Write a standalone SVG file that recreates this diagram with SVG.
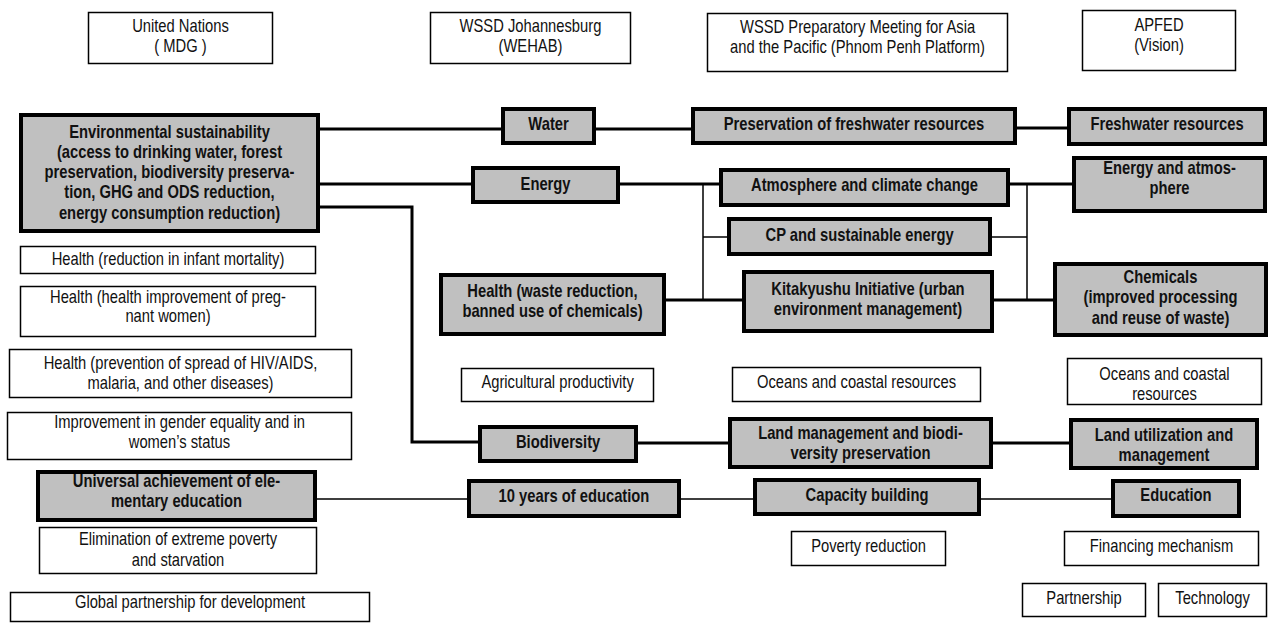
<svg xmlns="http://www.w3.org/2000/svg" width="1268" height="623" viewBox="0 0 1268 623">
<style>
text{font-family:"Liberation Sans",Arial,sans-serif;font-size:18px;fill:#111;text-anchor:middle;transform:scaleX(0.82);transform-box:fill-box;transform-origin:center}
.g rect{fill:#c0c0c0;stroke:#000;stroke-width:4}
.g text{font-weight:bold}
.w rect{fill:#fff;stroke:#000;stroke-width:1.5}
.thick{fill:none;stroke:#000;stroke-width:3}
.thin{fill:none;stroke:#000;stroke-width:1.5}
</style>
<rect width="1268" height="623" fill="#fff"/>
<g id="connectors">
<path class="thick" d="M320,129H501M596,129H691M1017,128H1067M320,184H471M620,184H719M1010,184H1072M320,207H412V442H478M638,443H728M993,443H1069M666,300H742M994,300H1053"/>
<path class="thin" d="M703,184V300M703,237H727M1027,185V300M992,237H1027M317,499H467M681,499H753M981,499H1111"/>
</g>
<g id="h-un" class="w"><rect x="88.5" y="12.5" width="184" height="51"/><text x="180.5" y="32">United Nations</text><text x="180.5" y="52">( MDG )</text></g>
<g id="h-wssd" class="w"><rect x="430.5" y="12.5" width="200" height="51"/><text x="530.5" y="32">WSSD Johannesburg</text><text x="530.5" y="52">(WEHAB)</text></g>
<g id="h-prep" class="w"><rect x="707.5" y="13.5" width="300" height="58"/><text x="857.5" y="33">WSSD Preparatory Meeting for Asia</text><text x="857.5" y="53">and the Pacific (Phnom Penh Platform)</text></g>
<g id="h-apfed" class="w"><rect x="1082.5" y="10.5" width="153" height="60"/><text x="1159" y="31">APFED</text><text x="1159" y="51">(Vision)</text></g>
<g id="env" class="g"><rect x="21" y="115" width="297" height="116"/><text x="169.5" y="138">Environmental sustainability</text><text x="169.5" y="158">(access to drinking water, forest</text><text x="169.5" y="178">preservation, biodiversity preserva-</text><text x="169.5" y="198">tion, GHG and ODS reduction,</text><text x="169.5" y="219">energy consumption reduction)</text></g>
<g id="water" class="g"><rect x="503" y="109" width="91" height="34"/><text x="548.5" y="130">Water</text></g>
<g id="pres-fw" class="g"><rect x="693" y="109" width="322" height="34"/><text x="854" y="130">Preservation of freshwater resources</text></g>
<g id="fw" class="g"><rect x="1069" y="109" width="196" height="35"/><text x="1167" y="130">Freshwater resources</text></g>
<g id="energy" class="g"><rect x="473" y="168" width="145" height="34"/><text x="545.5" y="190">Energy</text></g>
<g id="atmos" class="g"><rect x="721" y="170" width="287" height="35"/><text x="864.5" y="191">Atmosphere and climate change</text></g>
<g id="energy-atmos" class="g"><rect x="1074" y="158" width="191" height="53"/><text x="1169.5" y="174">Energy and atmos-</text><text x="1169.5" y="194">phere</text></g>
<g id="cp" class="g"><rect x="729" y="219" width="261" height="35"/><text x="859.5" y="241">CP and sustainable energy</text></g>
<g id="kita" class="g"><rect x="744" y="272" width="248" height="59"/><text x="868" y="295">Kitakyushu Initiative (urban</text><text x="868" y="315">environment management)</text></g>
<g id="health-waste" class="g"><rect x="441" y="275" width="223" height="59"/><text x="552.5" y="297">Health (waste reduction,</text><text x="552.5" y="317">banned use of chemicals)</text></g>
<g id="chem" class="g"><rect x="1055" y="264" width="211" height="71"/><text x="1160.5" y="283">Chemicals</text><text x="1160.5" y="303.5">(improved processing</text><text x="1160.5" y="324">and reuse of waste)</text></g>
<g id="bio" class="g"><rect x="480" y="427" width="156" height="34"/><text x="558" y="448">Biodiversity</text></g>
<g id="land-mgmt" class="g"><rect x="730" y="419" width="261" height="48"/><text x="860.5" y="439">Land management and biodi-</text><text x="860.5" y="459">versity preservation</text></g>
<g id="land-util" class="g"><rect x="1071" y="420" width="186" height="48"/><text x="1164" y="441">Land utilization and</text><text x="1164" y="461">management</text></g>
<g id="ten-years" class="g"><rect x="469" y="481" width="210" height="35"/><text x="574" y="502">10 years of education</text></g>
<g id="capacity" class="g"><rect x="755" y="480" width="224" height="34"/><text x="867" y="501">Capacity building</text></g>
<g id="education" class="g"><rect x="1113" y="481" width="126" height="35"/><text x="1176" y="501">Education</text></g>
<g id="universal" class="g"><rect x="38" y="472" width="277" height="48"/><text x="176.5" y="487">Universal achievement of ele-</text><text x="176.5" y="507">mentary education</text></g>
<g id="health-infant" class="w"><rect x="20.5" y="246.5" width="295" height="27"/><text x="168" y="265">Health (reduction in infant mortality)</text></g>
<g id="health-preg" class="w"><rect x="20.5" y="286.5" width="295" height="50"/><text x="168" y="303">Health (health improvement of preg-</text><text x="168" y="322">nant women)</text></g>
<g id="health-hiv" class="w"><rect x="9.5" y="349.5" width="342" height="48"/><text x="180.5" y="369">Health (prevention of spread of HIV/AIDS,</text><text x="180.5" y="389">malaria, and other diseases)</text></g>
<g id="gender" class="w"><rect x="7.5" y="412.5" width="344" height="47"/><text x="179.5" y="428">Improvement in gender equality and in</text><text x="179.5" y="448">women’s status</text></g>
<g id="poverty-elim" class="w"><rect x="39.5" y="527.5" width="277" height="46"/><text x="178" y="545">Elimination of extreme poverty</text><text x="178" y="566">and starvation</text></g>
<g id="global" class="w"><rect x="10.5" y="592.5" width="359" height="29"/><text x="190" y="608">Global partnership for development</text></g>
<g id="agri" class="w"><rect x="461.5" y="368.5" width="192" height="33"/><text x="557.5" y="388">Agricultural productivity</text></g>
<g id="oceans-mid" class="w"><rect x="732.5" y="367.5" width="248" height="34"/><text x="856.5" y="388">Oceans and coastal resources</text></g>
<g id="oceans-right" class="w"><rect x="1067.5" y="358.5" width="194" height="46"/><text x="1164.5" y="380">Oceans and coastal</text><text x="1164.5" y="400">resources</text></g>
<g id="poverty-red" class="w"><rect x="791.5" y="531.5" width="154" height="34"/><text x="868.5" y="552">Poverty reduction</text></g>
<g id="financing" class="w"><rect x="1064.5" y="531.5" width="194" height="34"/><text x="1161.5" y="552">Financing mechanism</text></g>
<g id="partnership" class="w"><rect x="1022.5" y="583.5" width="123" height="33"/><text x="1084" y="604">Partnership</text></g>
<g id="technology" class="w"><rect x="1158.5" y="583.5" width="108" height="33"/><text x="1212.5" y="604">Technology</text></g>
</svg>
